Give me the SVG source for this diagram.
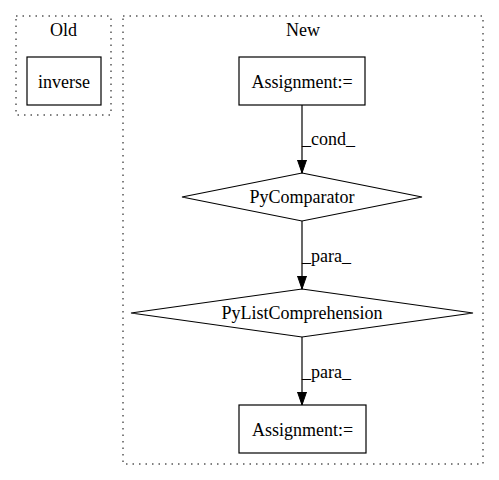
<svg xmlns="http://www.w3.org/2000/svg" width="499" height="480" viewBox="0 0 499 480">
<style>
text{font-family:"Liberation Serif","Times New Roman",serif;font-size:18px;fill:#000}
.c{text-anchor:middle}
.cl{fill:none;stroke:#000;stroke-dasharray:1.5,5}
.n{fill:#fff;stroke:#000;stroke-width:1.2}
.e{fill:none;stroke:#000;stroke-width:1.2}
</style>
<defs>
<marker id="ah" markerWidth="13" markerHeight="10" refX="13" refY="5" orient="auto" markerUnits="userSpaceOnUse">
<path d="M0,0.5 L13,5 L0,9.5 Z" fill="#000" stroke="#000"/>
</marker>
</defs>
<rect width="499" height="480" fill="#fff"/>
<g id="cluster_old">
<rect class="cl" x="16" y="16" width="95" height="99"/>
<text class="c" x="63.5" y="36">Old</text>
</g>
<g id="cluster_new">
<rect class="cl" x="123" y="16" width="360" height="448"/>
<text class="c" x="303" y="36">New</text>
</g>
<g id="inverse">
<rect class="n" x="27" y="57" width="74" height="48"/>
<text class="c" x="64" y="88">inverse</text>
</g>
<g id="assign1">
<rect class="n" x="239" y="57" width="126" height="48"/>
<text class="c" x="302" y="88">Assignment:=</text>
</g>
<g id="pycomparator">
<polygon class="n" points="302,173 422,197 302,221 182,197"/>
<text class="c" x="302" y="203">PyComparator</text>
</g>
<g id="pylistcomp">
<polygon class="n" points="302,289 473,313 302,337 131,313"/>
<text class="c" x="302" y="319">PyListComprehension</text>
</g>
<g id="assign2">
<rect class="n" x="239" y="405" width="127" height="48"/>
<text class="c" x="302.5" y="436">Assignment:=</text>
</g>
<g id="edges">
<line class="e" x1="302" y1="105" x2="302" y2="173" marker-end="url(#ah)"/>
<text x="302" y="145">_cond_</text>
<line class="e" x1="302" y1="221" x2="302" y2="289" marker-end="url(#ah)"/>
<text x="302" y="262">_para_</text>
<line class="e" x1="302" y1="337" x2="302" y2="405" marker-end="url(#ah)"/>
<text x="302" y="378">_para_</text>
</g>
</svg>
